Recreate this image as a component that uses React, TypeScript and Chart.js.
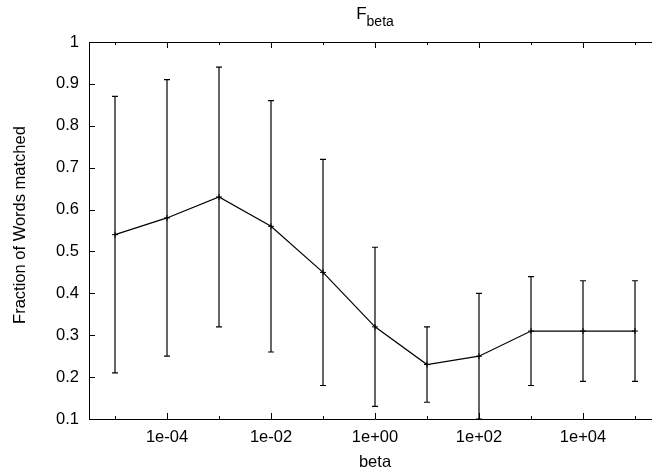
import React, { useEffect, useRef } from "react";
import { Chart, registerables } from "chart.js";

Chart.register(...registerables);

const betaValues = [1e-5, 1e-4, 1e-3, 1e-2, 1e-1, 1, 10, 100, 1000, 1e4, 1e5];
const meanValues = [0.54, 0.58, 0.63, 0.56, 0.45, 0.32, 0.23, 0.25, 0.31, 0.31, 0.31];
const lowerValues = [0.21, 0.25, 0.32, 0.26, 0.18, 0.13, 0.14, 0.1, 0.18, 0.19, 0.19];
const upperValues = [0.87, 0.91, 0.94, 0.86, 0.72, 0.51, 0.32, 0.4, 0.44, 0.43, 0.43];

const xMajorTicks = [1e-4, 1e-2, 1, 1e2, 1e4];
const xMajorLabels = ["1e-04", "1e-02", "1e+00", "1e+02", "1e+04"];
const xMinorTicks = [1e-5, 1e-3, 1e-1, 10, 1000, 1e5];
const yTicks = [0.1, 0.2, 0.3, 0.4, 0.5, 0.6, 0.7, 0.8, 0.9, 1];
const yTickLabels = ["0.1", "0.2", "0.3", "0.4", "0.5", "0.6", "0.7", "0.8", "0.9", "1"];

const titleMain = "F";
const titleSub = "beta";
const xTitle = "beta";
const yTitle = "Fraction of Words matched";

const FONT = "'Liberation Sans', Arial, Helvetica, sans-serif";
const TEXT_SIZE = 16.5;

const errorBarPlugin = {
  id: "errorBars",
  afterDatasetsDraw(chart: any) {
    const { ctx } = chart;
    const xs = chart.scales.x;
    const ys = chart.scales.y;
    ctx.save();
    ctx.strokeStyle = "#000";
    ctx.lineWidth = 1.2;
    for (let i = 0; i < betaValues.length; i++) {
      const x = xs.getPixelForValue(betaValues[i]);
      const yl = ys.getPixelForValue(lowerValues[i]);
      const yu = ys.getPixelForValue(upperValues[i]);
      ctx.beginPath();
      ctx.moveTo(x, yl);
      ctx.lineTo(x, yu);
      ctx.moveTo(x - 3, yl);
      ctx.lineTo(x + 3, yl);
      ctx.moveTo(x - 3, yu);
      ctx.lineTo(x + 3, yu);
      ctx.stroke();
    }
    ctx.restore();
  },
};

const framePlugin = {
  id: "frame",
  afterDraw(chart: any) {
    const { ctx, chartArea } = chart;
    const { left, right, top, bottom } = chartArea;
    const xs = chart.scales.x;
    const ys = chart.scales.y;
    ctx.save();
    ctx.strokeStyle = "#000";
    ctx.lineWidth = 1;
    ctx.beginPath();
    ctx.rect(Math.round(left) + 0.5, Math.round(top) + 0.5, Math.round(right - left), Math.round(bottom - top));
    ctx.stroke();
    ctx.beginPath();
    for (const v of yTicks) {
      const y = Math.round(ys.getPixelForValue(v)) + 0.5;
      ctx.moveTo(left, y);
      ctx.lineTo(left + 6, y);
      ctx.moveTo(right, y);
      ctx.lineTo(right - 6, y);
    }
    for (const v of xMajorTicks) {
      const x = Math.round(xs.getPixelForValue(v)) + 0.5;
      ctx.moveTo(x, bottom);
      ctx.lineTo(x, bottom - 6);
      ctx.moveTo(x, top);
      ctx.lineTo(x, top + 6);
    }
    for (const v of xMinorTicks) {
      const x = Math.round(xs.getPixelForValue(v)) + 0.5;
      ctx.moveTo(x, bottom);
      ctx.lineTo(x, bottom - 3);
      ctx.moveTo(x, top);
      ctx.lineTo(x, top + 3);
    }
    ctx.stroke();

    // title with subscript
    ctx.fillStyle = "#000";
    ctx.textBaseline = "alphabetic";
    ctx.textAlign = "left";
    const mainFont = `17px ${FONT}`;
    const subFont = `14px ${FONT}`;
    ctx.font = mainFont;
    const wMain = ctx.measureText(titleMain).width;
    ctx.font = subFont;
    const wSub = ctx.measureText(titleSub).width;
    const cx = (left + right) / 2;
    const x0 = cx - (wMain + wSub) / 2;
    ctx.font = mainFont;
    ctx.fillText(titleMain, x0, 19);
    ctx.font = subFont;
    ctx.fillText(titleSub, x0 + wMain, 25.5);

    // y axis title (rotated)
    ctx.font = `${TEXT_SIZE}px ${FONT}`;
    ctx.translate(25.3, (top + bottom) / 2 - 5.5);
    ctx.rotate(-Math.PI / 2);
    ctx.textAlign = "center";
    ctx.textBaseline = "alphabetic";
    ctx.fillText(yTitle, 0, 0);
    ctx.restore();
  },
};

export default function App() {
  const canvasRef = useRef<HTMLCanvasElement | null>(null);

  useEffect(() => {
    const canvas = canvasRef.current;
    if (!canvas) return;
    Chart.defaults.font.family = FONT;
    const chart = new Chart(canvas, {
      type: "line",
      data: {
        datasets: [
          {
            label: "F_beta",
            data: betaValues.map((b, i) => ({ x: b, y: meanValues[i] })),
            borderColor: "#000",
            backgroundColor: "#000",
            borderWidth: 1.2,
            pointStyle: "cross",
            pointRadius: 3,
            pointBorderWidth: 1,
            pointBorderColor: "#000",
            fill: false,
            tension: 0,
          },
        ],
      },
      options: {
        responsive: false,
        animation: false,
        devicePixelRatio: 1,
        layout: { padding: { left: 0, top: 42, right: 9, bottom: 0 } },
        plugins: {
          legend: { display: false },
          title: { display: false },
          tooltip: { enabled: false },
        },
        scales: {
          x: {
            type: "logarithmic",
            min: Math.pow(10, -5.5),
            max: Math.pow(10, 5.5),
            grid: { display: false, drawTicks: false },
            border: { display: false },
            afterBuildTicks: (scale: any) => {
              scale.ticks = xMajorTicks.map((v) => ({ value: v, major: false }));
            },
            afterFit: (scale: any) => {
              scale.height = 54;
            },
            ticks: {
              autoSkip: false,
              maxRotation: 0,
              minRotation: 0,
              padding: 9,
              color: "#000",
              font: { size: TEXT_SIZE },
              callback: (v: any) => {
                const idx = xMajorTicks.indexOf(Number(v));
                return idx >= 0 ? xMajorLabels[idx] : "";
              },
            },
            title: {
              display: true,
              text: xTitle,
              color: "#000",
              font: { size: TEXT_SIZE },
              padding: { top: 0, bottom: 1 },
            },
          },
          y: {
            type: "linear",
            min: 0.1,
            max: 1,
            grid: { display: false, drawTicks: false },
            border: { display: false },
            afterBuildTicks: (scale: any) => {
              scale.ticks = yTicks.map((v) => ({ value: v }));
            },
            afterFit: (scale: any) => {
              scale.width = 89;
            },
            ticks: {
              padding: 10,
              color: "#000",
              font: { size: TEXT_SIZE },
              callback: (v: any) => {
                const idx = yTicks.findIndex((t) => Math.abs(t - Number(v)) < 1e-9);
                return idx >= 0 ? yTickLabels[idx] : "";
              },
            },
            title: { display: false },
          },
        },
      },
      plugins: [errorBarPlugin, framePlugin],
    });
    return () => chart.destroy();
  }, []);

  return (
    <div
      style={{
        position: "absolute",
        left: 0,
        top: 0,
        width: 652,
        height: 473,
        overflow: "hidden",
        background: "#fff",
      }}
    >
      <canvas ref={canvasRef} width={670} height={473} style={{ width: 670, height: 473, display: "block" }} />
    </div>
  );
}
